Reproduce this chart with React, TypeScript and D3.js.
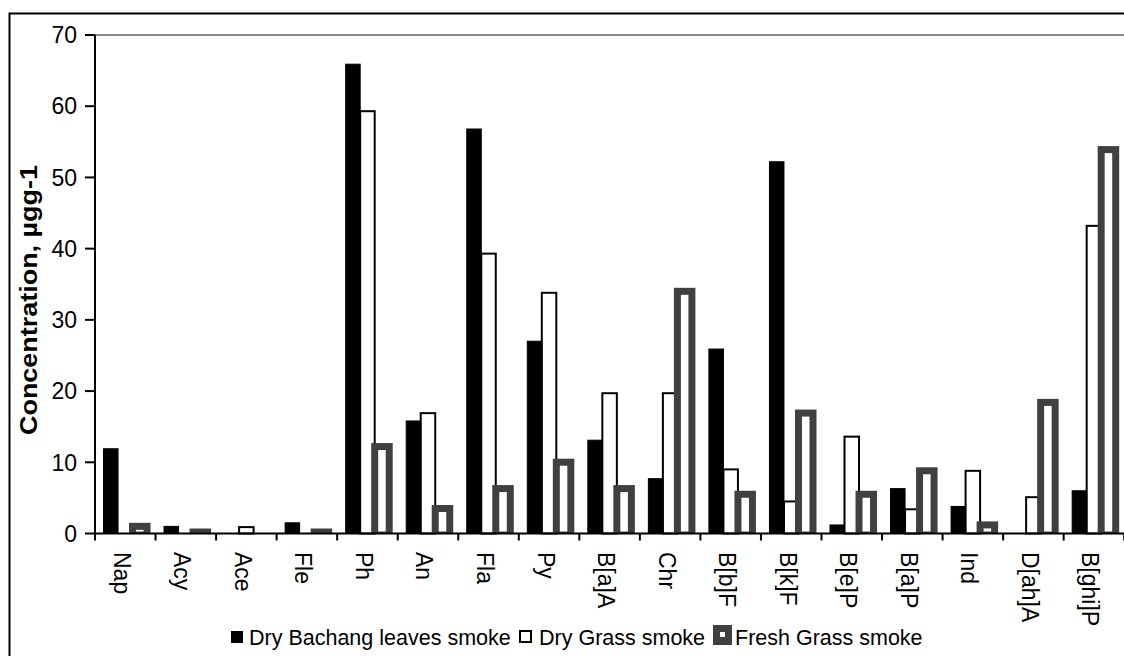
import React from "react";
import * as d3 from "d3";

const categories = ["Nap", "Acy", "Ace", "Fle", "Ph", "An", "Fla", "Py", "B[a]A", "Chr", "B[b]F", "B[k]F", "B[e]P", "B[a]P", "Ind", "D[ah]A", "B[ghi]P"];
const dryBachang = [11.9, 1.0, 0, 1.5, 65.9, 15.8, 56.8, 27.0, 13.1, 7.7, 25.9, 52.2, 1.2, 6.3, 3.8, 0, 6.0];
const dryGrass = [0, 0, 0.9, 0, 59.3, 16.9, 39.3, 33.8, 19.7, 19.7, 9.0, 4.5, 13.6, 3.4, 8.8, 5.1, 43.2];
const freshGrass = [1.5, 0.7, 0, 0.7, 12.7, 4.0, 6.8, 10.5, 6.8, 34.5, 6.0, 17.4, 6.0, 9.3, 1.7, 18.9, 54.4];
const seriesNames = ["Dry Bachang leaves smoke", "Dry Grass smoke", "Fresh Grass smoke"];
const yTicks = [0, 10, 20, 30, 40, 50, 60, 70];
const yTitle = "Concentration, µgg-1";

const W = 1124;
const H = 656;
const FONT = "'Liberation Sans', Arial, Helvetica, sans-serif";
const GRAY = "#404040";

export default function App() {
  const left = 95;
  const right = 1124.2;
  const top = 35;
  const bottom = 533.5;

  const x = d3.scaleBand<string>().domain(categories).range([left, right]).padding(0);
  const sub = d3
    .scaleBand<string>()
    .domain(seriesNames)
    .range([0, x.bandwidth()])
    .paddingInner(0)
    .paddingOuter(0.586);
  const y = d3.scaleLinear().domain([0, 70]).range([bottom, top]);
  const bw = sub.bandwidth();
  const border = 7;

  const boundaries = categories.map((c) => x(c) as number).concat([right]);

  return (
    <svg
      width={W}
      height={H}
      style={{ position: "absolute", left: 0, top: 0, background: "#fff" }}
      fontFamily={FONT}
    >
      <rect x={0} y={0} width={W} height={H} fill="#fff" />
      {/* outer frame (extends beyond picture) */}
      <rect x={9.5} y={13.5} width={1300} height={800} fill="none" stroke="#000" strokeWidth={2} />

      {/* top plot border */}
      <line x1={left} x2={right} y1={y(70)} y2={y(70)} stroke="#8c8c8c" strokeWidth={2} />

      {/* Dry Grass (white) bars */}
      {categories.map((c, i) => {
        const v = dryGrass[i];
        if (v <= 0) return null;
        const bx = (x(c) as number) + (sub(seriesNames[1]) as number);
        return (
          <rect key={"w" + c} x={bx} y={y(v)} width={bw} height={bottom - y(v)} fill="#fff" stroke="#000" strokeWidth={2} />
        );
      })}

      {/* Dry Bachang (black) bars */}
      {categories.map((c, i) => {
        const v = dryBachang[i];
        if (v <= 0) return null;
        const bx = (x(c) as number) + (sub(seriesNames[0]) as number);
        return (
          <rect key={"b" + c} x={bx} y={y(v)} width={bw} height={bottom - y(v)} fill="#000" stroke="#000" strokeWidth={1} />
        );
      })}

      {/* Fresh Grass (thick gray border) bars */}
      {categories.map((c, i) => {
        const v = freshGrass[i];
        if (v <= 0) return null;
        const cx = (x(c) as number) + (sub(seriesNames[2]) as number) + bw / 2;
        const ow = bw + border;
        const iw = ow - 2 * border;
        const innerTop = y(v) + border;
        const innerBottom = bottom - 2;
        return (
          <g key={"f" + c}>
            <rect x={cx - ow / 2} y={y(v)} width={ow} height={bottom - y(v)} fill={GRAY} />
            {innerBottom - innerTop > 0.5 && (
              <rect x={cx - iw / 2} y={innerTop} width={iw} height={innerBottom - innerTop} fill="#fff" />
            )}
          </g>
        );
      })}

      {/* y axis */}
      <line x1={left} x2={left} y1={top} y2={bottom} stroke="#000" strokeWidth={2} />
      {yTicks.map((t) => (
        <g key={"yt" + t}>
          <line x1={left - 10} x2={left} y1={y(t)} y2={y(t)} stroke="#000" strokeWidth={2} />
          <text x={77} y={y(t)} dy="0.36em" textAnchor="end" fontSize={23} fill="#000">
            {t}
          </text>
        </g>
      ))}

      {/* x axis */}
      <line x1={left} x2={right} y1={bottom} y2={bottom} stroke="#000" strokeWidth={2} />
      {boundaries.map((bx, i) => (
        <line key={"xt" + i} x1={bx} x2={bx} y1={bottom} y2={bottom + 7} stroke="#000" strokeWidth={2} />
      ))}
      {categories.map((c) => {
        const cx = (x(c) as number) + x.bandwidth() / 2;
        return (
          <text
            key={"xl" + c}
            transform={`translate(${cx},552) rotate(90)`}
            dy="0.5em"
            textAnchor="start"
            fontSize={23}
            fill="#000"
          >
            {c}
          </text>
        );
      })}

      {/* y title */}
      <text
        transform={`translate(37,300) rotate(-90)`}
        textAnchor="middle"
        fontSize={24}
        fontWeight="bold"
        fill="#000"
        textLength={270}
        lengthAdjust="spacingAndGlyphs"
      >
        {yTitle}
      </text>

      {/* legend */}
      <g>
        <rect x={231} y={631} width={12} height={12} fill="#000" />
        <text x={249} y={645} fontSize={21.5} fill="#000">{seriesNames[0]}</text>
        <rect x={520} y={631} width={11} height={11} fill="#fff" stroke="#000" strokeWidth={2} />
        <text x={539} y={645} fontSize={21.5} fill="#000">{seriesNames[1]}</text>
        <rect x={713} y={625} width={19} height={20} fill={GRAY} />
        <rect x={720} y={632} width={5} height={5} fill="#fff" />
        <text x={735} y={645} fontSize={21.5} fill="#000">{seriesNames[2]}</text>
      </g>
    </svg>
  );
}
